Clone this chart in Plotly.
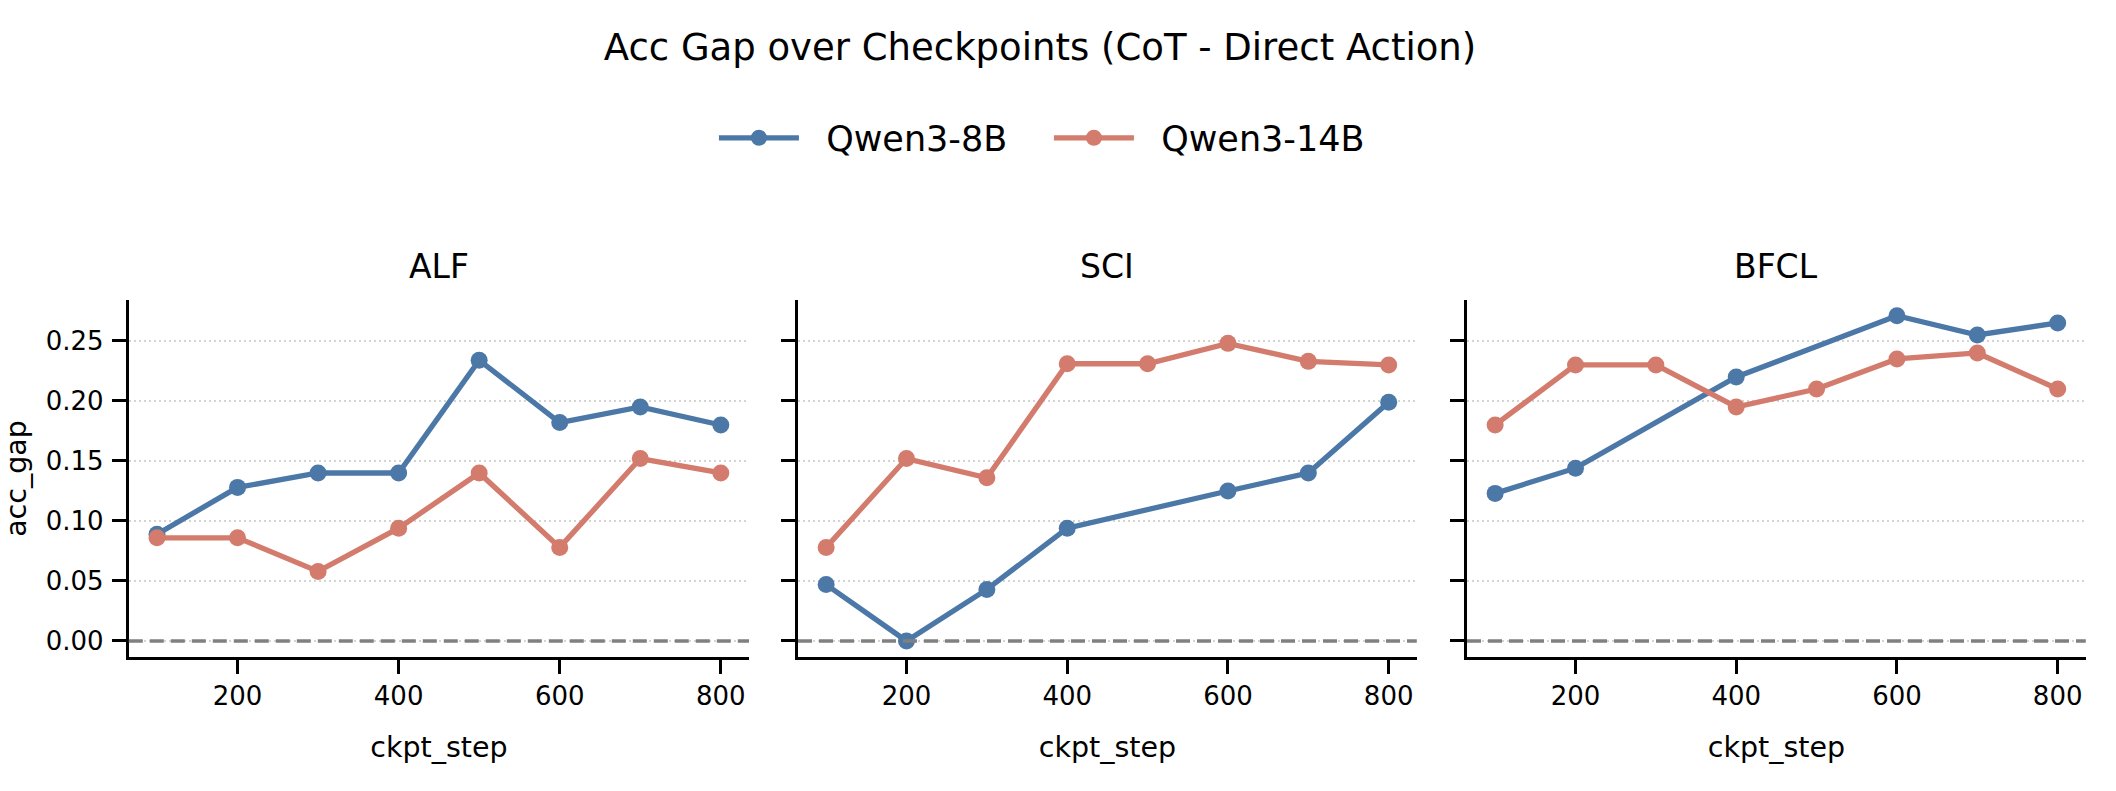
import plotly.graph_objects as go

# ---------------- data ----------------
steps = [100, 200, 300, 400, 500, 600, 700, 800]

alf_8b_steps = [100, 200, 300, 400, 500, 600, 700, 800]
alf_8b = [0.089, 0.128, 0.140, 0.140, 0.234, 0.182, 0.195, 0.180]
alf_14b_steps = [100, 200, 300, 400, 500, 600, 700, 800]
alf_14b = [0.086, 0.086, 0.058, 0.094, 0.140, 0.078, 0.152, 0.140]

sci_8b_steps = [100, 200, 300, 400, 600, 700, 800]
sci_8b = [0.047, 0.000, 0.043, 0.094, 0.125, 0.140, 0.199]
sci_14b_steps = [100, 200, 300, 400, 500, 600, 700, 800]
sci_14b = [0.078, 0.152, 0.136, 0.231, 0.231, 0.248, 0.233, 0.230]

bfcl_8b_steps = [100, 200, 400, 600, 700, 800]
bfcl_8b = [0.123, 0.144, 0.220, 0.271, 0.255, 0.265]
bfcl_14b_steps = [100, 200, 300, 400, 500, 600, 700, 800]
bfcl_14b = [0.180, 0.230, 0.230, 0.195, 0.210, 0.235, 0.240, 0.210]

panels = ["ALF", "SCI", "BFCL"]
models = ["Qwen3-8B", "Qwen3-14B"]
x_ticks = [200, 400, 600, 800]
y_ticks = [0.00, 0.05, 0.10, 0.15, 0.20, 0.25]

series = {
    "ALF": [(alf_8b_steps, alf_8b), (alf_14b_steps, alf_14b)],
    "SCI": [(sci_8b_steps, sci_8b), (sci_14b_steps, sci_14b)],
    "BFCL": [(bfcl_8b_steps, bfcl_8b), (bfcl_14b_steps, bfcl_14b)],
}

# ---------------- style ----------------
FONT = "DejaVu Sans"
colors = ["#4C78A8", "#D37B6C"]
W, H = 2116, 791
x_domains = [[0.06087, 0.35397], [0.37713, 0.66957], [0.69329, 0.98573]]
y_domain = [0.16915, 0.62099]
y_range = [-0.0135, 0.2843]
x_range = [65, 835]
NBSP = "\u00a0"

fig = go.Figure()

for i, panel in enumerate(panels):
    xa = "x" if i == 0 else f"x{i+1}"
    ya = "y" if i == 0 else f"y{i+1}"
    for j, model in enumerate(models):
        xs, ys = series[panel][j]
        fig.add_trace(go.Scatter(
            x=xs, y=ys, mode="lines+markers", name=NBSP * 2 + model,
            line=dict(color=colors[j], width=5.3),
            marker=dict(color=colors[j], size=17),
            xaxis=xa, yaxis=ya, showlegend=(i == 0),
            legendgroup=model,
        ))
    # zero reference line
    fig.add_shape(type="line", xref=f"{xa} domain", yref=ya,
                  x0=0, x1=1, y0=0, y1=0, layer="above",
                  line=dict(color="#808080", width=3.5, dash="14px,7px"))
    # subplot title
    fig.add_annotation(text=panel, xref="paper", yref="paper",
                       x=sum(x_domains[i]) / 2, y=0.6625,
                       xanchor="center", yanchor="middle", showarrow=False,
                       font=dict(family=FONT, size=33, color="black"))

axis_common = dict(
    showline=True, linecolor="black", linewidth=3, mirror=False,
    ticks="outside", ticklen=14, tickwidth=3, tickcolor="black",
    tickfont=dict(family=FONT, size=26, color="black"),
    zeroline=False,
)

layout = dict(
    width=W, height=H,
    margin=dict(l=0, r=0, t=0, b=0),
    paper_bgcolor="white", plot_bgcolor="white",
    font=dict(family=FONT, color="black"),
    title=dict(text="Acc Gap over Checkpoints (CoT - Direct Action)",
               x=0.4915, xanchor="center", y=0.9406, yanchor="middle",
               font=dict(family=FONT, size=37, color="black")),
    legend=dict(orientation="h", x=0.3374, xanchor="left",
                y=0.8255, yanchor="middle",
                font=dict(family=FONT, size=35, color="black"),
                itemwidth=80, entrywidth=240, entrywidthmode="pixels",
                bgcolor="rgba(0,0,0,0)"),
    showlegend=True,
)

for i in range(3):
    xk = "xaxis" if i == 0 else f"xaxis{i+1}"
    yk = "yaxis" if i == 0 else f"yaxis{i+1}"
    layout[xk] = dict(
        axis_common, domain=x_domains[i], range=x_range,
        tickvals=x_ticks, showgrid=False,
        anchor="y" if i == 0 else f"y{i+1}",
        title=dict(text="ckpt_step", standoff=27,
                   font=dict(family=FONT, size=28.5, color="black")),
    )
    layout[yk] = dict(
        axis_common, domain=y_domain, range=y_range,
        tickvals=y_ticks, tickformat=".2f",
        showticklabels=(i == 0), ticklabelstandoff=3,
        showgrid=True, gridcolor="#d4d4d4", gridwidth=1.5, griddash="2px,3px",
        anchor="x" if i == 0 else f"x{i+1}",
        title=dict(text="acc_gap" if i == 0 else "", standoff=25,
                   font=dict(family=FONT, size=28.5, color="black")),
    )

fig.update_layout(**layout)
fig.write_html("out.html")
